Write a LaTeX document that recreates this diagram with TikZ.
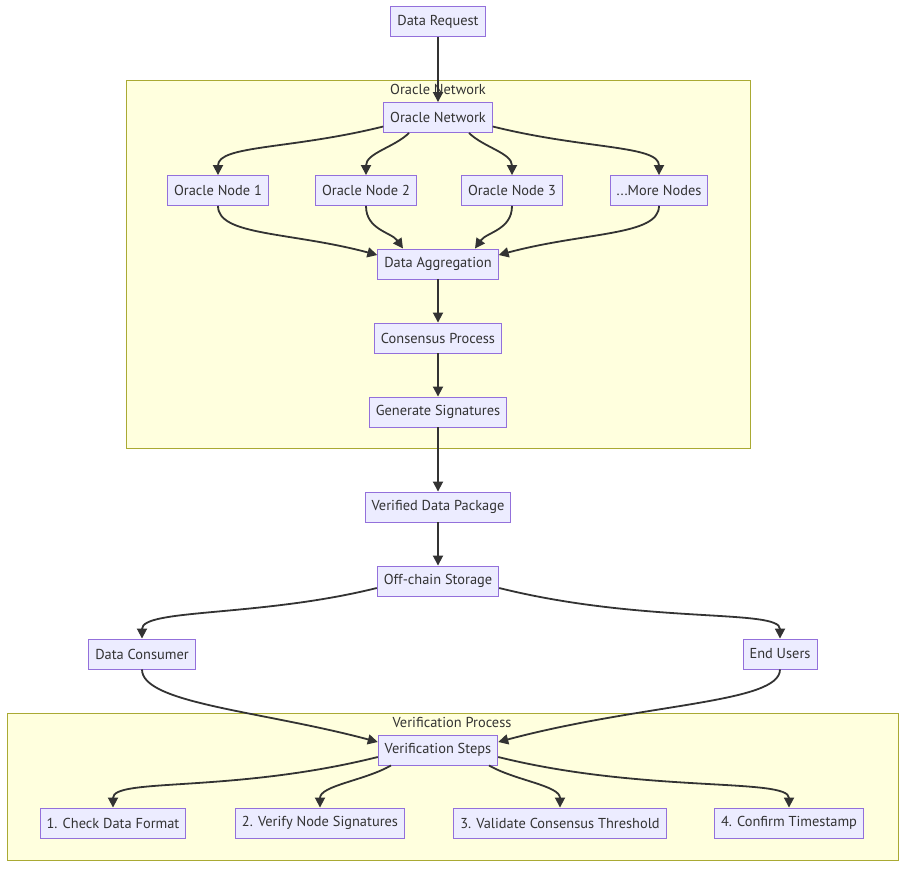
\documentclass[tikz,border=0pt]{standalone}
\usepackage{fontspec}
\setmainfont{PT Sans}
\usetikzlibrary{arrows.meta}
\definecolor{boxfill}{HTML}{ECECFF}
\definecolor{boxline}{HTML}{9370DB}
\definecolor{groupfill}{HTML}{FFFFDE}
\definecolor{groupline}{HTML}{AAAA33}
\definecolor{ink}{HTML}{333333}
\tikzset{
	box/.style={draw=boxline, fill=boxfill, line width=0.9pt, minimum height=30pt, inner xsep=6.5pt, text=ink, font=\fontsize{14.4}{16}\selectfont},
	group/.style={draw=groupline, fill=groupfill, line width=0.9pt},
	grouplabel/.style={text=ink, font=\fontsize{14.4}{16}\selectfont},
	flow/.style={draw=ink, line width=1.8pt, -{Triangle[length=10pt,width=10pt]}}
}
\begin{document}
\begin{tikzpicture}[x=1pt,y=1pt]
	\useasboundingbox[fill=white] (0,0) rectangle (900,-868);
	\draw[group] (126,-80) rectangle (750,-448);
	\node[grouplabel] (oraclelabel) at (438,-89) {Oracle Network};
	\draw[group] (7,-713) rectangle (898,-860);
	\node[grouplabel] (verifylabel) at (452,-722) {Verification Process};

	\node[box] (req) at (438,-21.5) {Data Request};
	\node[box] (net) at (438,-117.5) {Oracle Network};
	\node[box] (n1) at (218,-190.5) {Oracle Node 1};
	\node[box] (n2) at (366,-190.5) {Oracle Node 2};
	\node[box] (n3) at (512,-190.5) {Oracle Node 3};
	\node[box] (n4) at (659,-190.5) {...More Nodes};
	\node[box] (agg) at (438,-264) {Data Aggregation};
	\node[box] (cons) at (438,-338) {Consensus Process};
	\node[box] (sig) at (438,-412) {Generate Signatures};
	\node[box] (pkg) at (438,-507) {Verified Data Package};
	\node[box] (store) at (438,-581) {Off-chain Storage};
	\node[box] (consumer) at (142,-654) {Data Consumer};
	\node[box] (users) at (780,-654) {End Users};
	\node[box] (steps) at (438,-750) {Verification Steps};
	\node[box] (s1) at (113,-823) {1. Check Data Format};
	\node[box] (s2) at (320,-823) {2. Verify Node Signatures};
	\node[box] (s3) at (560,-823) {3. Validate Consensus Threshold};
	\node[box] (s4) at (789,-823) {4. Confirm Timestamp};

	\draw[flow] (req) -- (net);
	\draw[flow] ([yshift=-9pt]net.west) to[out=194,in=90,out distance=95pt,in distance=30pt] (n1.north);
	\draw[flow] ([xshift=-29pt]net.south) to[out=225,in=90,out distance=20pt,in distance=22pt] (n2.north);
	\draw[flow] ([xshift=31pt]net.south) to[out=-45,in=90,out distance=20pt,in distance=22pt] (n3.north);
	\draw[flow] ([yshift=-9pt]net.east) to[out=-14,in=90,out distance=95pt,in distance=30pt] (n4.north);
	\draw[flow] (n1.south) to[out=-90,in=165,out distance=30pt,in distance=90pt] ([yshift=9pt]agg.west);
	\draw[flow] (n2.south) to[out=-90,in=125,out distance=24pt,in distance=20pt] ([xshift=-35pt]agg.north);
	\draw[flow] (n3.south) to[out=-90,in=55,out distance=24pt,in distance=20pt] ([xshift=37pt]agg.north);
	\draw[flow] (n4.south) to[out=-90,in=15,out distance=30pt,in distance=90pt] ([yshift=9pt]agg.east);
	\draw[flow] (agg) -- (cons);
	\draw[flow] (cons) -- (sig);
	\draw[flow] (sig) -- (pkg);
	\draw[flow] (pkg) -- (store);
	\draw[flow] ([yshift=-7pt]store.west) to[out=194,in=90,out distance=120pt,in distance=30pt] (consumer.north);
	\draw[flow] ([yshift=-7pt]store.east) to[out=-14,in=90,out distance=150pt,in distance=30pt] (users.north);
	\draw[flow] (consumer.south) to[out=-90,in=165,out distance=34pt,in distance=120pt] ([yshift=8pt]steps.west);
	\draw[flow] (users.south) to[out=-90,in=15,out distance=34pt,in distance=150pt] ([yshift=8pt]steps.east);
	\draw[flow] ([yshift=-7pt]steps.west) to[out=194,in=90,out distance=150pt,in distance=30pt] (s1.north);
	\draw[flow] ([xshift=-47pt]steps.south) to[out=210,in=90,out distance=30pt,in distance=22pt] (s2.north);
	\draw[flow] ([xshift=51pt]steps.south) to[out=-30,in=90,out distance=30pt,in distance=22pt] (s3.north);
	\draw[flow] ([yshift=-7pt]steps.east) to[out=-14,in=90,out distance=150pt,in distance=30pt] (s4.north);
\end{tikzpicture}
\end{document}
